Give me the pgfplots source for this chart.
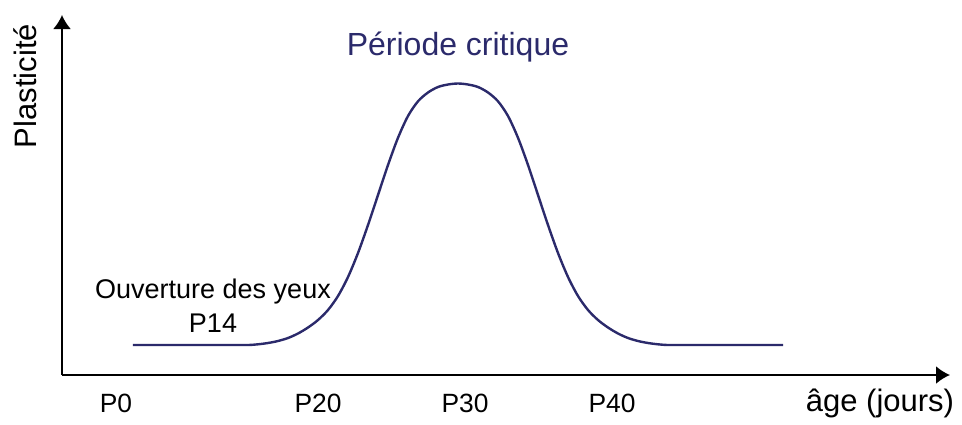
\documentclass[border=0pt]{standalone}
\usepackage{pgfplots}
\pgfplotsset{compat=1.18}
\usepackage{fontspec}
\setmainfont{Liberation Sans}
\usetikzlibrary{arrows.meta}
\definecolor{navy}{HTML}{2B2A6B}
\begin{document}
\begin{tikzpicture}
\begin{axis}[
  scale only axis,
  width=444pt, height=180pt,
  xmin=62, xmax=950, ymin=44, ymax=404,
  axis lines=left,
  axis line style={line width=1pt, -{Latex[length=7pt,width=9pt]}},
  clip=false,
  xtick={116,318,465,612},
  xticklabels={P0,P20,P30,P40},
  ytick=\empty,
  major tick length=0pt,
  xticklabel style={anchor=base, yshift=-18.5pt, font=\fontsize{13.2}{15}\selectfont},
  xlabel={âge (jours)},
  xlabel style={at={(axis cs:880,8)}, anchor=base, font=\fontsize{15.5}{18}\selectfont},
  ylabel={Plasticité},
  ylabel style={at={(axis cs:25,333)}, anchor=center, rotate=0, font=\fontsize{15.5}{18}\selectfont},
]
\path (axis cs:0,0) rectangle (axis cs:962,419);
\addplot[navy, line width=1.2pt, smooth, tension=0.5] coordinates {
(133,74) (188,74) (228,74) (248,74) (258,74.7) (268,76) (278,78) (288,81) (298,85.5) (308,91.5) (318,99) (328,109) (338,123) (348,142) (358,166) (368,194) (378,224) (388,254) (398,281.2) (408,303) (418,317.7) (428,326.5) (438,332) (448,334.5) (458,335.5)
(468,334.5) (478,332) (488,326.5) (498,317.7) (508,303) (518,281.2) (528,254) (538,224) (548,194) (558,166) (568,142) (578,123) (588,109) (598,99) (608,91.5) (618,85.5) (628,81) (638,78) (648,76) (658,74.7) (668,74) (688,74) (728,74) (783,74)
};
\node[anchor=base, font=\fontsize{13.5}{16}\selectfont] at (axis cs:213,121) {Ouverture des yeux};
\node[anchor=base, font=\fontsize{13.5}{16}\selectfont] at (axis cs:213,87) {P14};
\node[anchor=base, text=navy, font=\fontsize{16}{19}\selectfont] at (axis cs:458,364) {Période critique};
\end{axis}
\end{tikzpicture}
\end{document}
